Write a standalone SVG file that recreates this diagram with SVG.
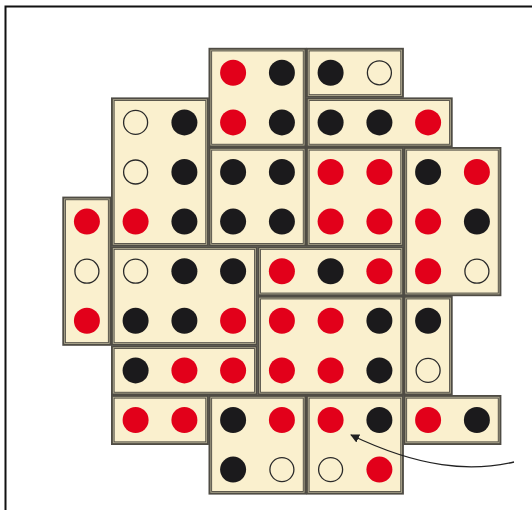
<svg xmlns="http://www.w3.org/2000/svg" width="532" height="510" viewBox="0 0 532 510">
<defs>
<style>
.t{fill:#FAF0CE;stroke:#4f4c44;stroke-width:3.6}
.ti{fill:none;stroke:#aea88f;stroke-width:0.9}
.r{fill:#E2001A}
.b{fill:#1b1a1c}
.o{fill:#FAF0CE;stroke:#2a2a2a;stroke-width:1.3}
.frame{fill:none;stroke:#111;stroke-width:2}
.arrow{fill:none;stroke:#222;stroke-width:1.3;marker-end:url(#ah)}
</style>
<marker id="ah" viewBox="0 0 10 10" refX="9" refY="5" markerWidth="9" markerHeight="9" markerUnits="userSpaceOnUse" orient="auto">
<path d="M0,0 L10,5 L0,10 Z" fill="#222"/>
</marker>
</defs>
<rect width="532" height="510" fill="#fff"/>
<path class="frame" d="M5.5,510 L5.5,6.5 L532,6.5"/>

<g id="tileA">
<rect class="t" x="210.3" y="49.6" width="94.3" height="96"/><rect class="ti" x="210.8" y="50.1" width="93.3" height="95"/>
<circle class="r" cx="233.1" cy="72.8" r="13"/><circle class="b" cx="281.9" cy="72.8" r="13"/>
<circle class="r" cx="233.1" cy="122.4" r="13"/><circle class="b" cx="281.9" cy="122.4" r="13"/>
</g>
<g id="tileB">
<rect class="t" x="307.8" y="49.6" width="94.3" height="46.4"/><rect class="ti" x="308.3" y="50.1" width="93.3" height="45.4"/>
<circle class="b" cx="330.6" cy="72.8" r="13"/><circle class="o" cx="379.4" cy="72.8" r="12"/>
</g>
<g id="tileC">
<rect class="t" x="307.8" y="99.2" width="143.1" height="46.4"/><rect class="ti" x="308.3" y="99.7" width="142.1" height="45.4"/>
<circle class="b" cx="330.6" cy="122.4" r="13"/><circle class="b" cx="379.4" cy="122.4" r="13"/><circle class="r" cx="428.1" cy="122.4" r="13"/>
</g>
<g id="tileD">
<rect class="t" x="112.8" y="99.2" width="94.3" height="145.6"/><rect class="ti" x="113.3" y="99.7" width="93.3" height="144.6"/>
<circle class="o" cx="135.6" cy="122.4" r="12"/><circle class="b" cx="184.4" cy="122.4" r="13"/>
<circle class="o" cx="135.6" cy="172" r="12"/><circle class="b" cx="184.4" cy="172" r="13"/>
<circle class="r" cx="135.6" cy="221.6" r="13"/><circle class="b" cx="184.4" cy="221.6" r="13"/>
</g>
<g id="tileE">
<rect class="t" x="210.3" y="148.8" width="94.3" height="96"/><rect class="ti" x="210.8" y="149.3" width="93.3" height="95"/>
<circle class="b" cx="233.1" cy="172" r="13"/><circle class="b" cx="281.9" cy="172" r="13"/>
<circle class="b" cx="233.1" cy="221.6" r="13"/><circle class="b" cx="281.9" cy="221.6" r="13"/>
</g>
<g id="tileF">
<rect class="t" x="307.8" y="148.8" width="94.3" height="96"/><rect class="ti" x="308.3" y="149.3" width="93.3" height="95"/>
<circle class="r" cx="330.6" cy="172" r="13"/><circle class="r" cx="379.4" cy="172" r="13"/>
<circle class="r" cx="330.6" cy="221.6" r="13"/><circle class="r" cx="379.4" cy="221.6" r="13"/>
</g>
<g id="tileG">
<rect class="t" x="405.3" y="148.8" width="94.3" height="145.6"/><rect class="ti" x="405.8" y="149.3" width="93.3" height="144.6"/>
<circle class="b" cx="428.1" cy="172" r="13"/><circle class="r" cx="476.9" cy="172" r="13"/>
<circle class="r" cx="428.1" cy="221.6" r="13"/><circle class="b" cx="476.9" cy="221.6" r="13"/>
<circle class="r" cx="428.1" cy="271.2" r="13"/><circle class="o" cx="476.9" cy="271.2" r="12"/>
</g>
<g id="tileH">
<rect class="t" x="64.1" y="198.4" width="45.6" height="145.6"/><rect class="ti" x="64.6" y="198.9" width="44.6" height="144.6"/>
<circle class="r" cx="86.9" cy="221.6" r="13"/><circle class="o" cx="86.9" cy="271.2" r="12"/><circle class="r" cx="86.9" cy="320.8" r="13"/>
</g>
<g id="tileI">
<rect class="t" x="112.8" y="248" width="143.1" height="96"/><rect class="ti" x="113.3" y="248.5" width="142.1" height="95"/>
<circle class="o" cx="135.6" cy="271.2" r="12"/><circle class="b" cx="184.4" cy="271.2" r="13"/><circle class="b" cx="233.1" cy="271.2" r="13"/>
<circle class="b" cx="135.6" cy="320.8" r="13"/><circle class="b" cx="184.4" cy="320.8" r="13"/><circle class="r" cx="233.1" cy="320.8" r="13"/>
</g>
<g id="tileJ">
<rect class="t" x="259.1" y="248" width="143.1" height="46.4"/><rect class="ti" x="259.6" y="248.5" width="142.1" height="45.4"/>
<circle class="r" cx="281.9" cy="271.2" r="13"/><circle class="b" cx="330.6" cy="271.2" r="13"/><circle class="r" cx="379.4" cy="271.2" r="13"/>
</g>
<g id="tileK">
<rect class="t" x="259.1" y="297.6" width="143.1" height="96"/><rect class="ti" x="259.6" y="298.1" width="142.1" height="95"/>
<circle class="r" cx="281.9" cy="320.8" r="13"/><circle class="r" cx="330.6" cy="320.8" r="13"/><circle class="b" cx="379.4" cy="320.8" r="13"/>
<circle class="r" cx="281.9" cy="370.4" r="13"/><circle class="r" cx="330.6" cy="370.4" r="13"/><circle class="b" cx="379.4" cy="370.4" r="13"/>
</g>
<g id="tileL">
<rect class="t" x="405.3" y="297.6" width="45.6" height="96"/><rect class="ti" x="405.8" y="298.1" width="44.6" height="95"/>
<circle class="b" cx="428.1" cy="320.8" r="13"/><circle class="o" cx="428.1" cy="370.4" r="12"/>
</g>
<g id="tileM">
<rect class="t" x="112.8" y="347.2" width="143.1" height="46.4"/><rect class="ti" x="113.3" y="347.7" width="142.1" height="45.4"/>
<circle class="b" cx="135.6" cy="370.4" r="13"/><circle class="r" cx="184.4" cy="370.4" r="13"/><circle class="r" cx="233.1" cy="370.4" r="13"/>
</g>
<g id="tileN">
<rect class="t" x="112.8" y="396.8" width="94.3" height="46.4"/><rect class="ti" x="113.3" y="397.3" width="93.3" height="45.4"/>
<circle class="r" cx="135.6" cy="420" r="13"/><circle class="r" cx="184.4" cy="420" r="13"/>
</g>
<g id="tileO">
<rect class="t" x="210.3" y="396.8" width="94.3" height="96"/><rect class="ti" x="210.8" y="397.3" width="93.3" height="95"/>
<circle class="b" cx="233.1" cy="420" r="13"/><circle class="r" cx="281.9" cy="420" r="13"/>
<circle class="b" cx="233.1" cy="469.6" r="13"/><circle class="o" cx="281.9" cy="469.6" r="12"/>
</g>
<g id="tileP">
<rect class="t" x="307.8" y="396.8" width="94.3" height="96"/><rect class="ti" x="308.3" y="397.3" width="93.3" height="95"/>
<circle class="r" cx="330.6" cy="420" r="13"/><circle class="b" cx="379.4" cy="420" r="13"/>
<circle class="o" cx="330.6" cy="469.6" r="12"/><circle class="r" cx="379.4" cy="469.6" r="13"/>
</g>
<g id="tileQ">
<rect class="t" x="405.3" y="396.8" width="94.3" height="46.4"/><rect class="ti" x="405.8" y="397.3" width="93.3" height="45.4"/>
<circle class="r" cx="428.1" cy="420" r="13"/><circle class="b" cx="476.9" cy="420" r="13"/>
</g>

<g id="connectors">
<path class="arrow" d="M514,462 C470,472 420,468 351,435"/>
</g>
</svg>
